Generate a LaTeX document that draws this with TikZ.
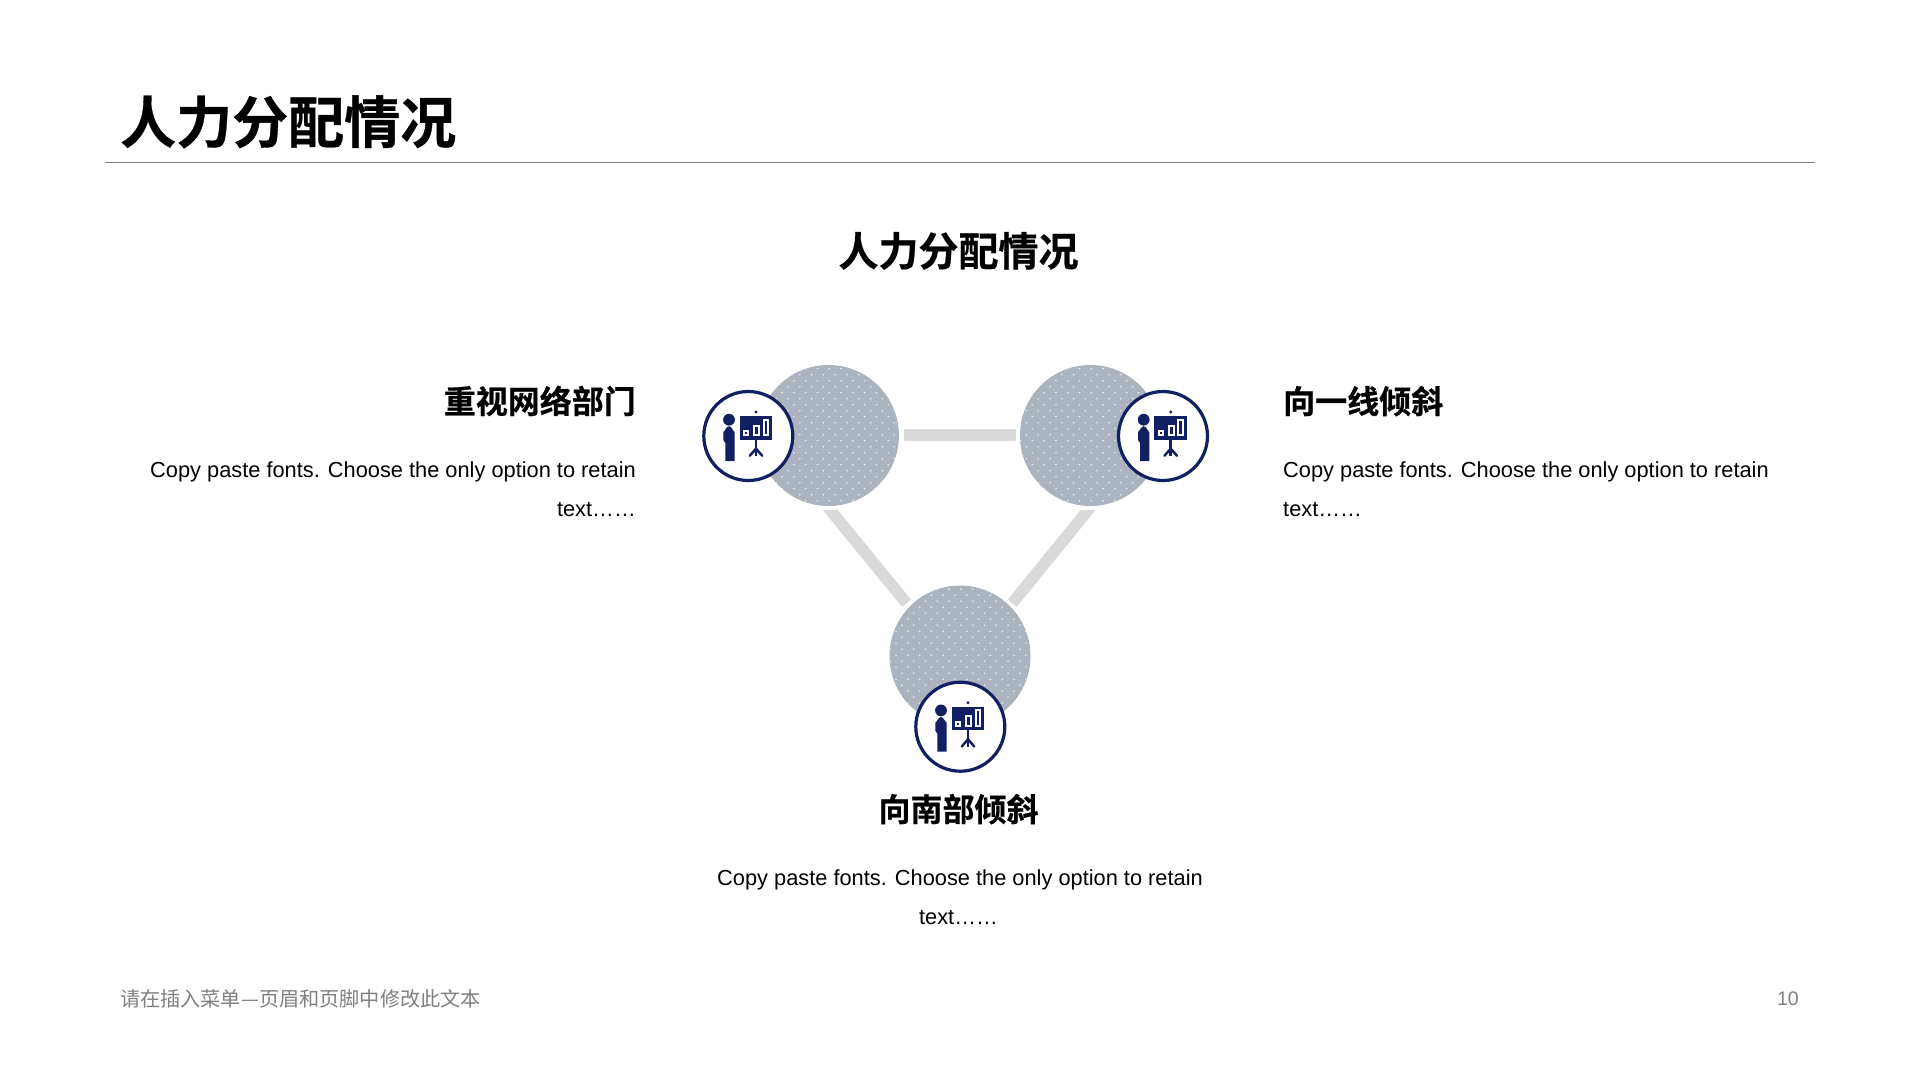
\documentclass[tikz,border=0pt]{standalone}
\usepackage{fontspec}
\setmainfont{Liberation Sans}
\newfontfamily\cjk{Noto Sans CJK SC}
\newfontfamily\cjkheavy[FakeBold=0.6]{Noto Sans CJK SC Bold}
\definecolor{navy}{HTML}{111F63}
\definecolor{disc}{HTML}{ABB3BE}
\definecolor{speck}{HTML}{E6E9ED}
\definecolor{barc}{HTML}{D9D9D9}
\definecolor{footc}{HTML}{808080}
\tikzset{
  x=1pt,y=-1pt,
  bigdisc/.style={circle,fill=disc,minimum size=141pt,inner sep=0pt,outer sep=0pt},
  iconring/.style={circle,draw=navy,fill=white,line width=3.2pt,minimum size=89pt,inner sep=0pt,outer sep=0pt},
  barline/.style={barc,line width=11.6pt},
  maintitle/.style={inner sep=0pt,font=\cjkheavy\fontsize{56}{60}\selectfont,text=black},
  subtitle/.style={inner sep=0pt,font=\cjkheavy\fontsize{40}{44}\selectfont,text=black},
  heading/.style={inner sep=0pt,font=\cjkheavy\fontsize{32}{36}\selectfont,text=black},
  bodytext/.style={inner sep=0pt,font=\fontsize{21.8}{39}\selectfont,text=black},
  footnote/.style={inner sep=0pt,font=\fontsize{20.15}{24}\selectfont,text=footc},
  presenter/.pic={
    \fill[navy] (-19.3,-16.3) circle (5.9);
    \fill[navy] (-23,25) -- (-23,7) -- (-25,4) -- (-25,-4.5) to[out=-90,in=180] (-19.3,-9.8) to[out=0,in=-90] (-13.6,-4.5) -- (-13.6,25) -- cycle;
    \fill[navy] (7.7,-24) circle (1.7);
    \fill[navy] (-8.7,-20) rectangle (23.7,3.7);
    \draw[white,line width=2pt,fill=navy] (-4,-5) rectangle (0,-1);
    \draw[white,line width=2pt,fill=navy] (6,-10.3) rectangle (10.6,-1);
    \draw[white,line width=2pt,fill=navy] (15.4,-16.3) rectangle (20,-1);
    \draw[navy,line width=2.6pt] (7.7,3.7) -- (7.7,20.3);
    \draw[navy,line width=2.5pt,line cap=round] (1.4,19.8) -- (7.7,12.7) -- (14,19.8);
  }
}
\newcommand{\specks}[1]{%
  \begin{scope}
    \clip (#1) circle (70.5);
    \foreach \r in {-12,...,12}{
      \pgfmathsetmacro{\off}{Mod(\r,2)==0 ? 0 : 5.9}
      \foreach \c in {-7,...,7}{
        \fill[speck] ([shift={(\c*11.8-5+\off,\r*6-0.8)}]#1) circle (0.95);
      }
    }
  \end{scope}%
}
\begin{document}
\begin{tikzpicture}
\useasboundingbox (0,0) rectangle (1920,1080);
\fill[white] (0,0) rectangle (1920,1080);

\node[maintitle,anchor=base west] (ttl) at (120,143) {人力分配情况};
\coordinate (ruleL) at (105,162.3);
\coordinate (ruleR) at (1815,162.3);
\draw[footc,line width=1.2pt] (ruleL) -- (ruleR);
\node[subtitle,anchor=base] (sub) at (958.5,266) {人力分配情况};

% connector bars
\coordinate (h1) at (904,434.8);
\coordinate (h2) at (1016,434.8);
\coordinate (l1) at (825.9,504.7);
\coordinate (l2) at (906.5,603.2);
\coordinate (r1) at (1092.4,504.7);
\coordinate (r2) at (1012.2,603.2);
\draw[barline] (h1) -- (h2);
\begin{scope}
  \clip (780,510.7) rectangle (1140,640);
  \draw[barline] (l1) -- (l2);
  \draw[barline] (r1) -- (r2);
\end{scope}

% discs
\node[bigdisc] (da) at (828.4,435.5) {};
\node[bigdisc] (db) at (1090.4,435.5) {};
\node[bigdisc] (dc) at (960,656) {};
\specks{da}
\specks{db}
\specks{dc}

% icons
\node[iconring] (ia) at (748.3,436) {};
\node[iconring] (ib) at (1163,436) {};
\node[iconring] (ic) at (960.3,726.7) {};
\pic at (ia) {presenter};
\pic at (ib) {presenter};
\pic at (ic) {presenter};

% texts
\node[heading,anchor=base east] (h-a) at (636,413.3) {重视网络部门};
\node[bodytext,anchor=north east,align=right] (b-a) at (636,461.2) {Copy paste fonts. Choose the only option to retain\\text……};
\node[heading,anchor=base west] (h-b) at (1283,413.3) {向一线倾斜};
\node[bodytext,anchor=north west,align=left] (b-b) at (1283,461.2) {Copy paste fonts. Choose the only option to retain\\text……};
\node[heading,anchor=base] (h-c) at (958.5,821.3) {向南部倾斜};
\node[bodytext,anchor=north,align=center] (b-c) at (960,869.2) {Copy paste fonts. Choose the only option to retain\\text……\hspace*{3pt}};

\node[footnote,anchor=base west] (foot) at (120,1006) {\cjk 请在插入菜单—页眉和页脚中修改此文本};
\node[footnote,anchor=base east,font=\fontsize{19.6}{24}\selectfont] (num) at (1799,1005.3) {10};
\end{tikzpicture}
\end{document}
